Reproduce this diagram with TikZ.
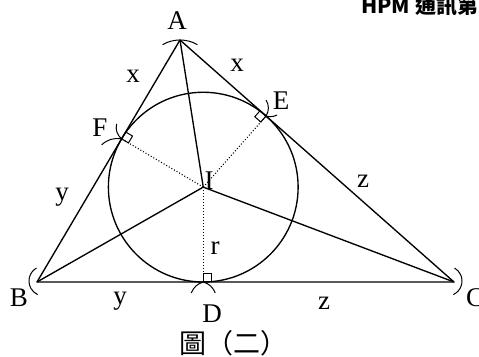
\documentclass[tikz,border=0pt]{standalone}
\usepackage{fontspec}
\setmainfont{Liberation Serif}
\newfontfamily\cjkfont{Noto Sans CJK TC}
\usepackage{tikz}
\usetikzlibrary{calc}

\begin{document}
\begin{tikzpicture}[
  x=1pt, y=1pt,
  side/.style={line width=1.35pt, black, line join=round},
  radial/.style={line width=1.1pt, dash pattern=on 1pt off 2pt},
  arcmark/.style={line width=1pt},
  rtangle/.style={line width=1pt},
  ptlabel/.style={font=\fontsize{27}{30}\selectfont, inner sep=0pt, anchor=base},
  seglabel/.style={font=\fontsize{27}{30}\selectfont, inner sep=0pt, anchor=base},
  caption/.style={font=\cjkfont\fontsize{27}{30}\selectfont, inner sep=0pt, anchor=base},
  header/.style={font=\cjkfont\bfseries\fontsize{21}{23}\selectfont, inner sep=0pt,
    anchor=base west},
]

\def\rin{94.87}

\useasboundingbox (0,0) rectangle (479,356);

% === points ===
\coordinate (A) at (180,316);
\coordinate (B) at (37,74);
\coordinate (C) at (454,74);
\coordinate (I) at (203.26,168.87);
\coordinate (D) at (203.26,74);
\coordinate (E) at (266.07,239.99);
\coordinate (F) at (121.58,217.14);

% === triangle, incircle ===
\draw[side] (A) -- (B) -- (C) -- cycle;
\draw[side] (I) circle[radius=\rin pt];
\draw[side] (A) -- (I);
\draw[side] (B) -- (I);
\draw[side] (C) -- (I);

% === radii to tangent points ===
\draw[radial] (I) -- (D);
\draw[radial] (I) -- (E);
\draw[radial] (I) -- (F);

% === right angles ===
\draw[rtangle, shift={(D)}] (0,0) -- (8,0) -- (8,8) -- (0,8) -- cycle;
\draw[rtangle, shift={(E)}, rotate=138.55] (0,0) -- (8,0) -- (8,8) -- (0,8) -- cycle;
\draw[rtangle, shift={(F)}, rotate=-30.58] (0,0) -- (8,0) -- (8,8) -- (0,8) -- cycle;

% === compass marks ===
\draw[arcmark] (A) ++(0,-35) ++(60:35) arc[start angle=60, end angle=120, radius=35pt];
\draw[arcmark] (B) ++(7,1) ++(120:15) arc[start angle=120, end angle=245, radius=15pt];
\draw[arcmark] (C) ++(-7,1) ++(-65:15) arc[start angle=-65, end angle=60, radius=15pt];
\draw[arcmark] (D) to[bend right=25] ++(-12,-11);
\draw[arcmark] (D) to[bend left=25] ++(12,-11);
\draw[arcmark] (E) to[bend right=30] ++(0,16);
\draw[arcmark] (E) to[bend right=20] ++(11,1);
\draw[arcmark] (F) to[bend left=30] ++(-5,15);
\draw[arcmark] (F) to[bend right=25] ++(-20,-6);

% === labels ===
\node[ptlabel] (lbl-A) at (177,326) {A};
\node[ptlabel] (lbl-B) at (19,49) {B};
\node[ptlabel] (lbl-C) at (475,49) {C};
\node[ptlabel] (lbl-D) at (212,34) {D};
\node[ptlabel] (lbl-E) at (281,246) {E};
\node[ptlabel] (lbl-F) at (100,219) {F};
\node[ptlabel] (lbl-I) at (209,166) {I};

\node[seglabel] (lbl-x1) at (133,273) {x};
\node[seglabel] (lbl-x2) at (237,284) {x};
\node[seglabel] (lbl-y1) at (62,155) {y};
\node[seglabel] (lbl-y2) at (120,51) {y};
\node[seglabel] (lbl-z1) at (363,168) {z};
\node[seglabel] (lbl-z2) at (324,46) {z};
\node[seglabel] (lbl-r) at (215,101) {r};

\node[caption] (fig-cap) at (233,2) {圖（二）};
\node[header] (page-head) at (361,342) {HPM 通訊第};

\end{tikzpicture}
\end{document}
